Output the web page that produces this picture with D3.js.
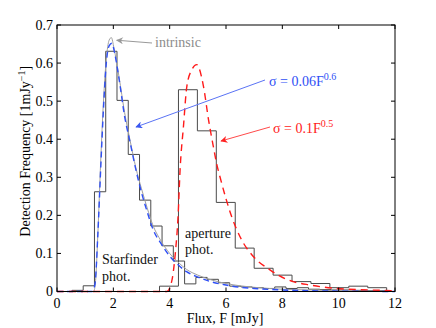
<!DOCTYPE html>
<html>
<head>
<meta charset="utf-8">
<script src="https://cdn.jsdelivr.net/npm/d3@7"></script>
<style>
  body { margin: 0; background: #fff; }
  svg { display: block; font-family: "Liberation Serif", serif; }
</style>
</head>
<body>
<svg id="chart" width="436" height="328"></svg>
<script>
// starfinder histogram: bins of fixed width starting at sfStart
var sfStart = 0.53, sfWidth = 0.4;
var sfCounts = [0.003, 0.015, 0.262, 0.631, 0.502, 0.36, 0.24, 0.172, 0.12, 0.08,
                0.02, 0.037, 0.032, 0.023, 0.014, 0.012, 0.01, 0.008, 0.012, 0.008,
                0.01, 0.006, 0.005, 0.004, 0.004, 0.003, 0.002, 0.002];

// aperture histogram
var apStart = 3.64, apWidth = 0.672;
var apCounts = [0.014, 0.53, 0.422, 0.234, 0.114, 0.061, 0.043, 0.026, 0.021, 0.01, 0.014, 0.01];

// curves [flux, frequency]
var intrinsic = [[0,0],[1.3,0],[1.36,0.02],[1.45,0.15],[1.55,0.34],[1.65,0.5],[1.75,0.61],[1.85,0.66],
                 [1.93,0.667],[2.02,0.64],[2.2,0.565],[2.4,0.47],[2.6,0.395],[2.8,0.325],[3.0,0.27],
                 [3.2,0.22],[3.4,0.175],[3.7,0.132],[4.0,0.1],[4.3,0.077],[4.6,0.058],[5.0,0.043],
                 [5.5,0.03],[6.0,0.021],[6.5,0.015],[7.0,0.011],[8,0.006],[9,0.004],[10,0.002],[12,0]];
var starfinderFit = [[0,0],[1.25,0],[1.35,0.02],[1.45,0.15],[1.55,0.32],[1.65,0.48],[1.75,0.6],[1.85,0.645],
                     [1.95,0.652],[2.05,0.625],[2.2,0.56],[2.4,0.46],[2.6,0.39],[2.8,0.32],[3.0,0.26],
                     [3.2,0.21],[3.4,0.165],[3.7,0.125],[4.0,0.093],[4.3,0.07],[4.6,0.052],[5.0,0.038],
                     [5.5,0.025],[6.0,0.017],[6.5,0.011],[7.0,0.008],[8,0.004],[9,0.002],[10,0.001],[12,0]];
var apertureFit = [[0,0],[3.9,0],[4.07,0.026],[4.2,0.1],[4.3,0.2],[4.37,0.32],[4.49,0.434],[4.61,0.539],
                   [4.79,0.583],[4.96,0.596],[5.2,0.539],[5.38,0.451],[5.55,0.381],[5.67,0.335],
                   [5.79,0.3],[6.2,0.197],[6.56,0.135],[6.97,0.092],[7.56,0.057],[7.9,0.041],
                   [8.39,0.026],[8.98,0.017],[9.93,0.008],[11.1,0.004],[12,0.002]];

var xTicks = [0, 2, 4, 6, 8, 10, 12];
var yTicks = [0, 0.1, 0.2, 0.3, 0.4, 0.5, 0.6, 0.7];

var svg = d3.select("#chart"),
    margin = {top: 25, right: 41, bottom: 36.5, left: 57},
    width = 436 - margin.left - margin.right,
    height = 328 - margin.top - margin.bottom,
    g = svg.append("g").attr("transform", "translate(" + margin.left + "," + margin.top + ")");

var x = d3.scaleLinear().domain([0, 12]).range([0, width]);
var y = d3.scaleLinear().domain([0, 0.7]).range([height, 0]);

var defs = svg.append("defs");
function arrowHead(id, color) {
  defs.append("marker")
      .attr("id", id)
      .attr("viewBox", "0 -5 10 10")
      .attr("refX", 9).attr("refY", 0)
      .attr("markerWidth", 11).attr("markerHeight", 7)
      .attr("markerUnits", "userSpaceOnUse")
      .attr("orient", "auto")
    .append("path")
      .attr("d", "M0,-5L10,0L0,5L3,0Z")
      .attr("fill", color);
}
arrowHead("arGray", "#999");
arrowHead("arBlue", "#3a57f0");
arrowHead("arRed", "#f22");

function stairs(start, w, counts) {
  var pts = [[start, 0]];
  counts.forEach(function(c, i) { pts.push([start + i * w, c]); });
  pts.push([start + counts.length * w, 0]);
  return pts;
}

var stepLine = d3.line()
    .x(function(d) { return x(d[0]); })
    .y(function(d) { return y(d[1]); })
    .curve(d3.curveStepAfter);

var smooth = d3.line()
    .x(function(d) { return x(d[0]); })
    .y(function(d) { return y(d[1]); })
    .curve(d3.curveMonotoneX);

// histograms
g.append("path")
    .attr("d", stepLine(stairs(sfStart, sfWidth, sfCounts)))
    .attr("fill", "none").attr("stroke", "#4a4a4a").attr("stroke-width", 1);
g.append("path")
    .attr("d", stepLine(stairs(apStart, apWidth, apCounts)))
    .attr("fill", "none").attr("stroke", "#4a4a4a").attr("stroke-width", 1);

// curves
g.append("path")
    .attr("d", smooth(intrinsic))
    .attr("fill", "none").attr("stroke", "#a0a0a0").attr("stroke-width", 1);
g.append("path")
    .attr("d", smooth(starfinderFit))
    .attr("fill", "none").attr("stroke", "#2f4ff5").attr("stroke-width", 1.4)
    .attr("stroke-dasharray", "6,4");
g.append("path")
    .attr("d", smooth(apertureFit))
    .attr("fill", "none").attr("stroke", "#ff1a1a").attr("stroke-width", 1.4)
    .attr("stroke-dasharray", "7,5");

// frame and ticks (inward, mirrored on top/right)
g.append("rect")
    .attr("width", width).attr("height", height)
    .attr("fill", "none").attr("stroke", "#000").attr("stroke-width", 1);

var tk = 4;
xTicks.forEach(function(t) {
  g.append("line").attr("x1", x(t)).attr("x2", x(t)).attr("y1", height).attr("y2", height - tk).attr("stroke", "#000");
  g.append("line").attr("x1", x(t)).attr("x2", x(t)).attr("y1", 0).attr("y2", tk).attr("stroke", "#000");
  g.append("text").attr("x", x(t)).attr("y", height + 16)
      .attr("text-anchor", "middle").attr("font-size", 14).text(t);
});
yTicks.forEach(function(t) {
  g.append("line").attr("x1", 0).attr("x2", tk).attr("y1", y(t)).attr("y2", y(t)).attr("stroke", "#000");
  g.append("line").attr("x1", width).attr("x2", width - tk).attr("y1", y(t)).attr("y2", y(t)).attr("stroke", "#000");
  g.append("text").attr("x", -4).attr("y", y(t)).attr("dy", "0.35em")
      .attr("text-anchor", "end").attr("font-size", 14).text(t);
});

// axis titles
g.append("text")
    .attr("x", width / 2 - 1).attr("y", height + 31)
    .attr("text-anchor", "middle").attr("font-size", 14)
    .text("Flux, F [mJy]");
var yl = g.append("text")
    .attr("transform", "translate(-27," + (height / 2 - 7) + ") rotate(-90)")
    .attr("text-anchor", "middle").attr("font-size", 14);
yl.append("tspan").text("Detection Frequency [1mJy");
yl.append("tspan").attr("dy", -5).attr("font-size", 10).text("\u22121");
yl.append("tspan").attr("dy", 5).text("]");

// annotations
g.append("line")
    .attr("x1", 152 - margin.left).attr("y1", 43 - margin.top)
    .attr("x2", x(2.12)).attr("y2", y(0.66))
    .attr("stroke", "#999").attr("marker-end", "url(#arGray)");
g.append("text").attr("x", 155 - margin.left).attr("y", 47 - margin.top)
    .attr("font-size", 14).attr("fill", "#8c8c8c").text("intrinsic");

g.append("line")
    .attr("x1", 265 - margin.left).attr("y1", 80 - margin.top)
    .attr("x2", 136 - margin.left).attr("y2", 127 - margin.top)
    .attr("stroke", "#5a73f5").attr("marker-end", "url(#arBlue)");
var tb = g.append("text").attr("x", 269 - margin.left).attr("y", 86 - margin.top)
    .attr("font-size", 14).attr("fill", "#2f4ff5");
tb.append("tspan").text("\u03c3 = 0.06F");
tb.append("tspan").attr("dy", -6).attr("font-size", 10).text("0.6");

g.append("line")
    .attr("x1", 270 - margin.left).attr("y1", 127 - margin.top)
    .attr("x2", 221 - margin.left).attr("y2", 141 - margin.top)
    .attr("stroke", "#ff4a4a").attr("marker-end", "url(#arRed)");
var tr = g.append("text").attr("x", 273 - margin.left).attr("y", 133 - margin.top)
    .attr("font-size", 14).attr("fill", "#ff1a1a");
tr.append("tspan").text("\u03c3 = 0.1F");
tr.append("tspan").attr("dy", -6).attr("font-size", 10).text("0.5");

var ts = g.append("text").attr("x", 102 - margin.left).attr("y", 264 - margin.top)
    .attr("font-size", 14).attr("fill", "#111");
ts.append("tspan").text("Starfinder");
ts.append("tspan").attr("x", 102 - margin.left).attr("dy", 17).text("phot.");

var ta = g.append("text").attr("x", 185 - margin.left).attr("y", 238 - margin.top)
    .attr("font-size", 14).attr("fill", "#111");
ta.append("tspan").text("aperture");
ta.append("tspan").attr("x", 185 - margin.left).attr("dy", 16).text("phot.");
</script>
</body>
</html>
